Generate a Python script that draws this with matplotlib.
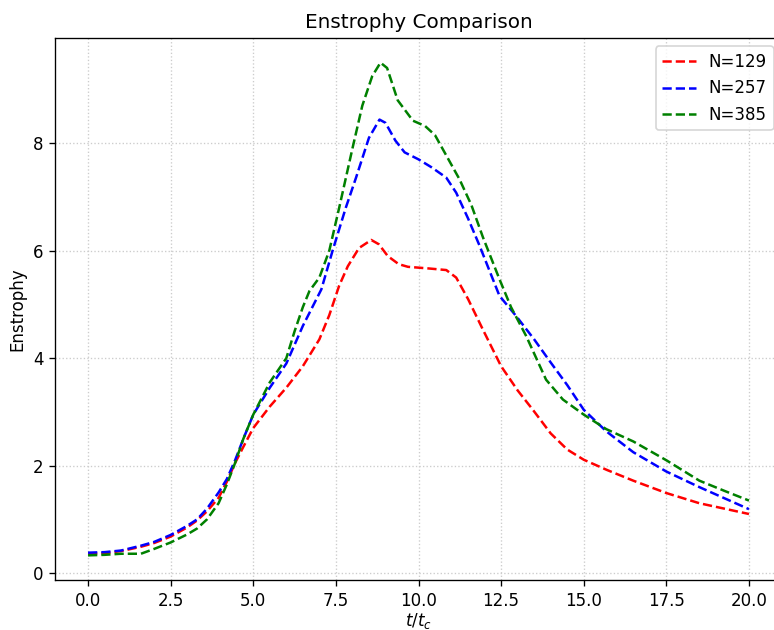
import matplotlib
matplotlib.use("Agg")
import matplotlib.pyplot as plt

labels = ["N=129", "N=257", "N=385"]
colors = ["red", "blue", "green"]

x_129 = [0, 0.5, 1.0, 1.6, 2.0, 2.5, 3.0, 3.3, 3.6, 3.95, 4.2, 4.45, 4.7, 5.0, 5.5, 6.0, 6.5, 7.0,
         7.3, 7.6, 7.86, 8.2, 8.57, 8.8, 9.07, 9.4, 9.68, 10.3, 10.84, 11.14, 11.5, 11.95, 12.5,
         13.0, 13.46, 14.0, 14.5, 15.0, 15.7, 16.5, 17.5, 18.5, 20.0]
y_129 = [0.36, 0.37, 0.41, 0.49, 0.56, 0.68, 0.85, 0.98, 1.15, 1.4, 1.7, 2.05, 2.35, 2.7, 3.1, 3.45,
         3.85, 4.35, 4.8, 5.35, 5.71, 6.05, 6.2, 6.12, 5.9, 5.75, 5.70, 5.67, 5.64, 5.50, 5.1, 4.53,
         3.85, 3.4, 3.04, 2.6, 2.3, 2.11, 1.92, 1.72, 1.49, 1.3, 1.10]

x_257 = [0, 0.5, 1.0, 1.6, 2.0, 2.5, 3.0, 3.3, 3.6, 3.95, 4.2, 4.45, 4.7, 5.0, 5.5, 6.0, 6.5, 7.06,
         7.4, 7.8, 8.11, 8.5, 8.82, 9.0, 9.3, 9.58, 10.0, 10.4, 10.84, 11.14, 11.5, 11.85, 12.45,
         12.96, 13.5, 14.0, 14.5, 15.0, 15.68, 16.5, 17.5, 18.5, 20.0]
y_257 = [0.38, 0.39, 0.42, 0.51, 0.58, 0.71, 0.88, 1.0, 1.2, 1.5, 1.75, 2.1, 2.5, 2.95, 3.45, 3.9,
         4.6, 5.28, 6.0, 6.8, 7.36, 8.1, 8.44, 8.38, 8.05, 7.83, 7.7, 7.55, 7.36, 7.08, 6.6, 6.09,
         5.16, 4.78, 4.35, 3.92, 3.5, 3.04, 2.64, 2.25, 1.89, 1.6, 1.19]

x_385 = [0, 0.5, 1.0, 1.6, 2.0, 2.5, 3.0, 3.3, 3.6, 3.95, 4.2, 4.45, 4.7, 5.0, 5.5, 6.0, 6.25, 6.5,
         6.7, 7.0, 7.3, 7.6, 8.0, 8.3, 8.6, 8.85, 9.05, 9.37, 9.83, 10.2, 10.5, 11.24, 11.6, 11.95,
         12.45, 12.8, 13.26, 13.86, 14.37, 15.0, 15.68, 16.5, 17.5, 18.5, 19.3, 20.0]
y_385 = [0.33, 0.34, 0.36, 0.36, 0.45, 0.57, 0.72, 0.83, 1.0, 1.3, 1.65, 2.05, 2.5, 2.95, 3.55, 4.0,
         4.5, 4.95, 5.25, 5.5, 6.0, 6.8, 7.9, 8.7, 9.25, 9.5, 9.4, 8.8, 8.42, 8.32, 8.15, 7.33, 6.85,
         6.25, 5.47, 4.95, 4.41, 3.6, 3.23, 2.95, 2.68, 2.45, 2.1, 1.72, 1.52, 1.35]

fig = plt.figure(figsize=(7.74 / 1.2, 6.3 / 1.2), dpi=120)
ax = fig.add_axes([55 / 774, (630 - 580) / 630, 727 / 774, 542 / 630])

series = [(x_129, y_129), (x_257, y_257), (x_385, y_385)]
for (xs, ys), lab, c in zip(series, labels, colors):
    ax.plot(xs, ys, linestyle="--", color=c, label=lab, linewidth=1.5)

ax.set_title("Enstrophy Comparison", fontsize=12)
ax.set_xlabel("$t/t_c$", labelpad=1)
ax.set_ylabel("Enstrophy")
ax.grid(True, linestyle=":", color="#cccccc", linewidth=0.8)
ax.legend(loc="upper right")

fig.savefig("out.png", dpi=120)
